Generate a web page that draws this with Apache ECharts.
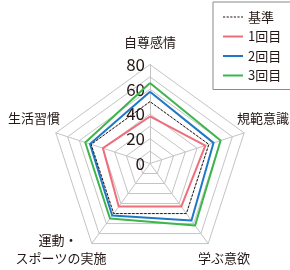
<!DOCTYPE html>
<html>
<head>
<meta charset="utf-8">
<script src="https://cdn.jsdelivr.net/npm/echarts@6/dist/echarts.min.js"></script>
<style>
html,body{margin:0;padding:0;background:#fff;}
#c{width:290px;height:270px;}
</style>
</head>
<body>
<div id="c"></div>
<script>
// Indicator order follows ECharts' counter-clockwise placement starting at the top
var indicators = ['自尊感情', '生活習慣', '運動・\nスポーツの実施', '学ぶ意欲', '規範意識'];
var seriesNames = ['基準', '1回目', '2回目', '3回目'];
var baseValues = [50, 50, 50, 50, 50];
var round1 = [38, 40, 43, 43, 47];
var round2 = [58, 51, 52, 57, 54];
var round3 = [65, 55, 55, 62, 60];
var tickLabels = ['0', '20', '40', '60', '80'];

var FONT = '"Noto Sans CJK JP", "Noto Sans", sans-serif';
var TXT = '#231815';
var colors = ['#231815', '#ee6e7a', '#1f78c6', '#3db54a'];

var chart = echarts.init(document.getElementById('c'), null, {renderer: 'canvas'});

var dashIcon = 'path://M0,0L20,0L20,0ZM0,2L20,2L20,2Z' +
  'M0,0.6h2.2v0.9h-2.2zM3.6,0.6h2.2v0.9h-2.2zM7.2,0.6h2.2v0.9h-2.2zM10.8,0.6h2.2v0.9h-2.2zM14.4,0.6h2.2v0.9h-2.2zM18,0.6h2v0.9h-2z';
var solidIcon = 'path://M0,0h20v2h-20z';

var indicatorOpts = indicators.map(function (n, i) {
  var o = {name: n, min: 0, max: 80};
  if (i === 0) {
    o.axisLabel = {
      show: true,
      fontSize: 17,
      color: TXT,
      fontFamily: FONT,
      margin: 5,
      formatter: function (v) {
        var s = String(v);
        return tickLabels.indexOf(s) >= 0 ? s : '';
      }
    };
  }
  return o;
});

var nameLabelPos = [
  {t: '自尊感情', x: 150, y: 42, a: 'center'},
  {t: '規範意識', x: 237, y: 118, a: 'left'},
  {t: '学ぶ意欲', x: 198, y: 258, a: 'left'},
  {t: '運動・', x: 58, y: 240, a: 'center'},
  {t: 'スポーツの実施', x: 61, y: 258, a: 'center'},
  {t: '生活習慣', x: 8, y: 118, a: 'left'}
];

var option = {
  animation: false,
  backgroundColor: '#fff',
  textStyle: {fontFamily: FONT},
  legend: {
    orient: 'vertical',
    left: 213,
    top: 2,
    padding: [8, 11, 7, 10],
    itemWidth: 20,
    itemHeight: 2,
    itemGap: 5.5,
    borderColor: '#8a8a8a',
    borderWidth: 1,
    backgroundColor: '#fff',
    textStyle: {fontSize: 13, color: TXT, fontFamily: FONT, lineHeight: 14},
    data: [
      {name: seriesNames[0], icon: dashIcon},
      {name: seriesNames[1], icon: solidIcon},
      {name: seriesNames[2], icon: solidIcon},
      {name: seriesNames[3], icon: solidIcon}
    ]
  },
  radar: {
    center: [150, 163.5],
    radius: 99,
    startAngle: 90,
    splitNumber: 8,
    shape: 'polygon',
    indicator: indicatorOpts,
    axisName: {show: false},
    axisLine: {lineStyle: {color: '#c4c4c4', width: 1}},
    splitLine: {lineStyle: {color: '#c4c4c4', width: 1}},
    splitArea: {show: false},
    axisTick: {show: false},
    axisLabel: {show: false}
  },
  graphic: nameLabelPos.map(function (p) {
    return {
      type: 'text',
      left: p.a === 'center' ? null : p.x,
      x: p.a === 'center' ? p.x : 0,
      y: p.y,
      style: {
        text: p.t,
        fontSize: 13,
        fill: TXT,
        fontFamily: FONT,
        textAlign: p.a,
        textVerticalAlign: 'middle'
      }
    };
  }),
  series: [
    {
      name: seriesNames[0], type: 'radar', symbol: 'none', z: 3,
      lineStyle: {color: colors[0], width: 1, type: [2.5, 1.5]},
      itemStyle: {color: colors[0]},
      data: [{value: baseValues, name: seriesNames[0]}]
    },
    {
      name: seriesNames[1], type: 'radar', symbol: 'none', z: 2,
      lineStyle: {color: colors[1], width: 2},
      itemStyle: {color: colors[1]},
      data: [{value: round1, name: seriesNames[1]}]
    },
    {
      name: seriesNames[2], type: 'radar', symbol: 'none', z: 2,
      lineStyle: {color: colors[2], width: 2},
      itemStyle: {color: colors[2]},
      data: [{value: round2, name: seriesNames[2]}]
    },
    {
      name: seriesNames[3], type: 'radar', symbol: 'none', z: 2,
      lineStyle: {color: colors[3], width: 2},
      itemStyle: {color: colors[3]},
      data: [{value: round3, name: seriesNames[3]}]
    }
  ]
};

// fix graphic positioning: use absolute x for every text
option.graphic = nameLabelPos.map(function (p) {
  return {
    type: 'text',
    x: p.x,
    y: p.y,
    style: {
      text: p.t,
      fontSize: 13,
      fill: TXT,
      fontFamily: FONT,
      align: p.a,
      verticalAlign: 'middle'
    }
  };
});

chart.setOption(option);
</script>
</body>
</html>
